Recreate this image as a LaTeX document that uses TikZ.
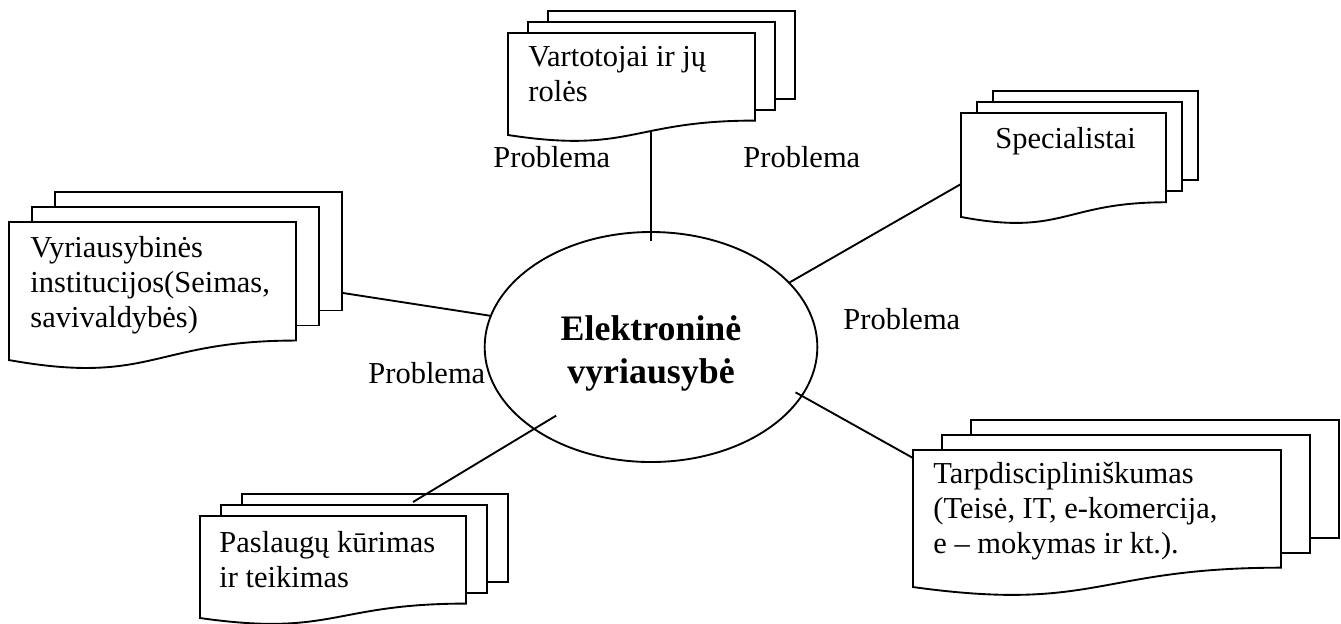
\documentclass[tikz,border=0pt]{standalone}
\usepackage{fontspec}
\setmainfont{Liberation Serif}
\usetikzlibrary{shapes.geometric}

% three stacked pages: #1 x, #2 y (top left of the front page), #3 width, #4 height, #5 dx, #6 dy
\newcommand{\pagestack}[6]{%
  \draw[page] ({#1+2*#5},{#2-2*#6}) rectangle ({#1+#3+2*#5},{#2+0.802*#4-2*#6});
  \draw[page] ({#1+#5},{#2-#6}) rectangle ({#1+#3+#5},{#2+0.802*#4-#6});
  \draw[page] (#1,#2) -- ({#1+#3},#2) -- ({#1+#3},{#2+0.802*#4})
    .. controls ({#1+0.5*#3},{#2+0.802*#4}) and ({#1+0.5*#3},{#2+1.108*#4}) .. (#1,{#2+0.934*#4}) -- cycle;
}

\begin{document}
\begin{tikzpicture}[
  x=0.015cm, y=-0.015cm,
  page/.style={draw, fill=white, line width=0.8pt},
  link/.style={line width=0.8pt},
  hub/.style={draw, ellipse, line width=0.8pt, minimum width=4.99cm, minimum height=3.45cm, inner sep=0pt},
  hubtext/.style={anchor=base, align=center, text width=4cm, inner sep=0pt, font=\fontsize{15.3}{18.4}\selectfont\bfseries},
  doctext/.style={anchor=north west, align=left, inner sep=0pt, font=\fontsize{13}{14.9}\selectfont},
  problem/.style={anchor=base west, inner sep=0pt, font=\fontsize{13}{14.9}\selectfont}
]
\useasboundingbox (0,0) rectangle (1341,623);

% documents
\pagestack{508}{33}{247}{109.2}{20}{11}
\node[doctext] (vart) at (528,46) {Vartotojai ir jų\\rolės};
\pagestack{9}{222}{287}{147.8}{23}{15}
\node[doctext] (vyr) at (30,236) {Vyriausybinės\\institucijos(Seimas,\\savivaldybės)};
\pagestack{961}{113}{205}{111.3}{16}{11}
\node[doctext] (spec) at (995,127) {Specialistai};
\pagestack{913}{450}{368}{146.7}{29}{15}
\node[doctext] (tarp) at (933,462) {Tarpdiscipliniškumas\\(Teisė, IT, e-komercija,\\e – mokymas ir kt.).};
\pagestack{200}{516}{266}{109.2}{21}{11}
\node[doctext] (pasl) at (219,531) {Paslaugų kūrimas\\ir teikimas};

% centre
\node[hub] (egov) at (651,347) {};
\node[hubtext] (egovname) at (651,340) {Elektroninė\\vyriausybė};

\node[problem] (prob1) at (493,167) {Problema};
\node[problem] (prob2) at (743,167) {Problema};
\node[problem] (prob3) at (843,329) {Problema};
\node[problem] (prob4) at (368,383) {Problema};

% connectors
\coordinate (vartfoot) at (651,132);
\coordinate (vyrside) at (343,293);
\coordinate (specside) at (961,184);
\coordinate (tarpside) at (913,458);
\coordinate (paslside) at (413,502);
\draw[link, shorten >=-0.15cm] (vartfoot) -- (egov.north);
\draw[link] (vyrside) -- (egov.169);
\draw[link] (specside) -- (egov.25);
\draw[link, shorten >=-0.12cm] (tarpside) -- (egov.-18);
\draw[link, shorten >=-0.4cm] (paslside) -- (egov.215);
\end{tikzpicture}
\end{document}
